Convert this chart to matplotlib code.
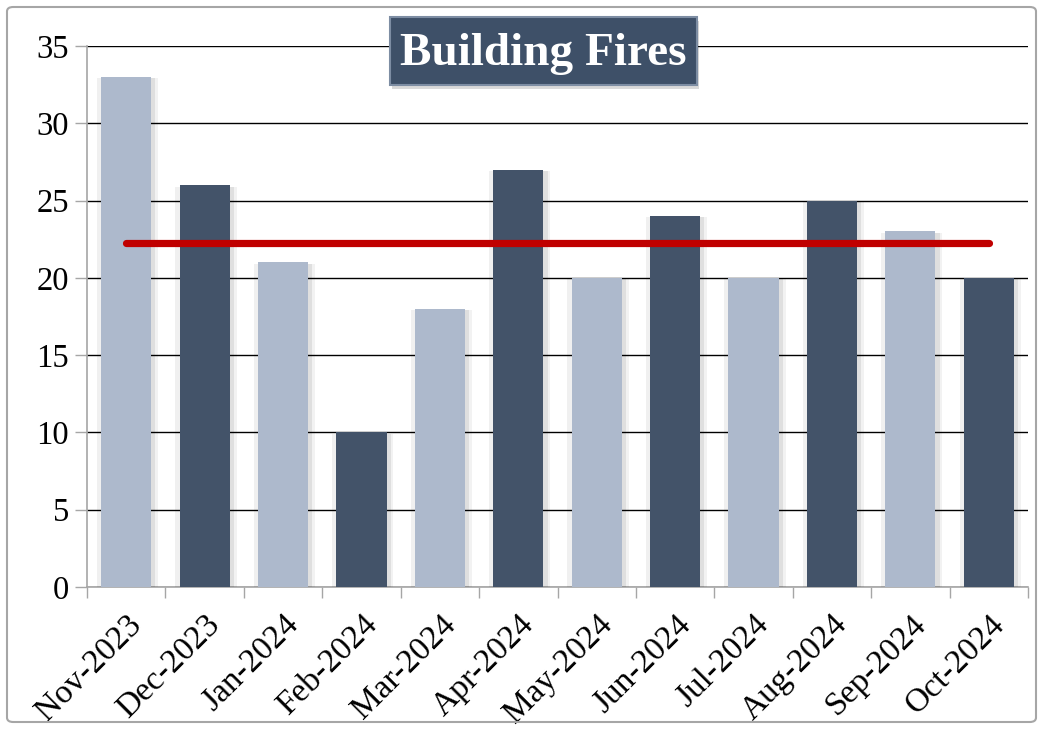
import matplotlib
matplotlib.use("Agg")
import matplotlib.pyplot as plt
import matplotlib.patheffects as pe
from matplotlib.patches import Rectangle, FancyBboxPatch
from matplotlib.ticker import FixedLocator, NullFormatter

# ── Data ────────────────────────────────────────────────────────────────────
months = ["Nov-2023", "Dec-2023", "Jan-2024", "Feb-2024", "Mar-2024", "Apr-2024",
          "May-2024", "Jun-2024", "Jul-2024", "Aug-2024", "Sep-2024", "Oct-2024"]
fires = [33, 26, 21, 10, 18, 27, 20, 24, 20, 25, 23, 20]
average = sum(fires) / len(fires)

# ── Palette ─────────────────────────────────────────────────────────────────
C_LIGHT = "#adb9cc"
C_DARK = "#435369"
C_RED = "#c00000"
C_TITLE = "#3e5068"
C_AXIS = "#a6a6a6"

plt.rcParams["font.family"] = ["Liberation Serif", "DejaVu Serif"]

fig = plt.figure(figsize=(10.44, 7.29), dpi=100)
ax = fig.add_axes([87 / 1044, 1 - 587 / 729, (1028 - 87) / 1044, (587 - 46) / 729])

x = list(range(len(months)))
colors = [C_LIGHT if i % 2 == 0 else C_DARK for i in x]
# soft side shadows
shadow = [pe.SimplePatchShadow(offset=(5, -1), shadow_rgbFace="black", alpha=0.05),
          pe.SimplePatchShadow(offset=(3, -1), shadow_rgbFace="black", alpha=0.08),
          pe.SimplePatchShadow(offset=(-3, -1), shadow_rgbFace="black", alpha=0.06),
          pe.Normal()]
bars = ax.bar(x, fires, width=0.64, color=colors, zorder=3)
for b in bars:
    b.set_path_effects(shadow)

ax.plot([x[0], x[-1]], [average, average], color=C_RED, lw=5.2,
        solid_capstyle="round", zorder=4)

ax.set_xlim(-0.5, len(months) - 0.5)
ax.set_ylim(0, 35)
ax.set_yticks(range(0, 36, 5))
ax.yaxis.grid(True, color="black", lw=1.0, zorder=0)
ax.set_axisbelow(True)

ax.set_xticks(x)
ax.set_xticklabels(months, rotation=45, ha="right", va="top",
                   rotation_mode="anchor", fontsize=24)
ax.tick_params(axis="x", which="major", length=0, pad=16)
ax.xaxis.set_minor_locator(FixedLocator([i - 0.5 for i in range(len(months) + 1)]))
ax.xaxis.set_minor_formatter(NullFormatter())
ax.tick_params(axis="x", which="minor", length=8, color=C_AXIS, width=1)
ax.tick_params(axis="y", length=9, color=C_AXIS, width=1, labelsize=23.5, pad=4)

for s in ["top", "right"]:
    ax.spines[s].set_visible(False)
for s in ["left", "bottom"]:
    ax.spines[s].set_color(C_AXIS)
    ax.spines[s].set_linewidth(1.2)

# ── Title box ───────────────────────────────────────────────────────────────
tx0, ty0, tw, th = 390 / 1044, 1 - 85 / 729, 307 / 1044, 68 / 729
fig.patches.append(Rectangle((tx0 + 0.002, ty0 - 0.005), tw, th, transform=fig.transFigure,
                             facecolor="black", alpha=0.15, edgecolor="none", zorder=5))
fig.patches.append(Rectangle((tx0, ty0), tw, th, transform=fig.transFigure,
                             facecolor=C_TITLE, edgecolor="#7d8da3", lw=1.5, zorder=6))
fig.text(tx0 + tw / 2, ty0 + th / 2 - 0.004, "Building Fires", ha="center", va="center",
         fontsize=34, fontweight="bold", color="white", zorder=7)

# ── Outer frame ─────────────────────────────────────────────────────────────
fig.patches.append(FancyBboxPatch((7 / 1044, 7 / 729), 1029 / 1044, 715 / 729,
                                  boxstyle="round,pad=0,rounding_size=0.006",
                                  transform=fig.transFigure, facecolor="none",
                                  edgecolor=C_AXIS, lw=1.5, zorder=1))

fig.savefig("out.png", dpi=100)
